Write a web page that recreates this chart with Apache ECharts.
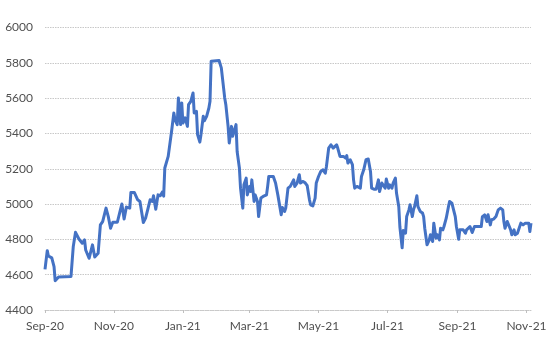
<!DOCTYPE html>
<html><head><meta charset="utf-8">
<script src="https://cdn.jsdelivr.net/npm/echarts@6/dist/echarts.min.js"></script>
<style>html,body{margin:0;padding:0;background:#fff}#c{width:558px;height:346px}</style>
</head><body><div id="c"></div>
<script>
const monthNames = ['Jan','Feb','Mar','Apr','May','Jun','Jul','Aug','Sep','Oct','Nov','Dec'];
const xStart = '2020-09-01';
const xEnd = '2021-11-05';
const yMin = 4400, yMax = 6000, yStep = 200;

const dates = [
  '2020-09-01','2020-09-03','2020-09-04','2020-09-07','2020-09-09','2020-09-10','2020-09-13','2020-09-24','2020-09-26','2020-09-28',
  '2020-10-01','2020-10-04','2020-10-06','2020-10-07','2020-10-10','2020-10-11','2020-10-13','2020-10-15','2020-10-18','2020-10-20','2020-10-22','2020-10-25','2020-10-27','2020-10-29','2020-10-31',
  '2020-11-04','2020-11-06','2020-11-08','2020-11-10','2020-11-12','2020-11-15','2020-11-16','2020-11-19','2020-11-22','2020-11-24','2020-11-27','2020-11-29',
  '2020-12-01','2020-12-03','2020-12-05','2020-12-06','2020-12-08','2020-12-10','2020-12-12','2020-12-14','2020-12-15','2020-12-16','2020-12-19','2020-12-22','2020-12-24','2020-12-25','2020-12-27','2020-12-28','2020-12-30','2020-12-31',
  '2021-01-01','2021-01-03','2021-01-05','2021-01-06','2021-01-08','2021-01-10','2021-01-11','2021-01-13','2021-01-14','2021-01-16','2021-01-17','2021-01-19','2021-01-20','2021-01-22','2021-01-24','2021-01-25','2021-01-26',
  '2021-02-02','2021-02-04','2021-02-05','2021-02-07','2021-02-08','2021-02-10','2021-02-11','2021-02-13','2021-02-14','2021-02-17','2021-02-18','2021-02-20','2021-02-21','2021-02-23','2021-02-24','2021-02-26','2021-02-27',
  '2021-03-01','2021-03-02','2021-03-03','2021-03-05','2021-03-06','2021-03-08','2021-03-09','2021-03-11','2021-03-13','2021-03-16','2021-03-17','2021-03-18','2021-03-22','2021-03-24','2021-03-26','2021-03-28','2021-03-29','2021-03-30',
  '2021-04-01','2021-04-02','2021-04-04','2021-04-06','2021-04-09','2021-04-10','2021-04-12','2021-04-14','2021-04-15','2021-04-17','2021-04-19','2021-04-21','2021-04-23','2021-04-24','2021-04-26','2021-04-28','2021-04-29',
  '2021-05-01','2021-05-03','2021-05-05','2021-05-07','2021-05-08','2021-05-10','2021-05-12','2021-05-14','2021-05-17','2021-05-18','2021-05-20','2021-05-21','2021-05-23','2021-05-25','2021-05-26','2021-05-27','2021-05-29','2021-05-31',
  '2021-06-01','2021-06-02','2021-06-04','2021-06-07','2021-06-08','2021-06-10','2021-06-12','2021-06-14','2021-06-16','2021-06-17','2021-06-19','2021-06-21','2021-06-23','2021-06-24','2021-06-26','2021-06-27','2021-06-29','2021-06-30',
  '2021-07-02','2021-07-03','2021-07-05','2021-07-06','2021-07-08','2021-07-09','2021-07-11','2021-07-12','2021-07-14','2021-07-15','2021-07-17','2021-07-18','2021-07-20','2021-07-21','2021-07-23','2021-07-24','2021-07-25','2021-07-27','2021-07-28','2021-07-30',
  '2021-08-01','2021-08-02','2021-08-03','2021-08-04','2021-08-05','2021-08-07','2021-08-08','2021-08-10','2021-08-11','2021-08-13','2021-08-14','2021-08-16','2021-08-17','2021-08-19','2021-08-20','2021-08-22','2021-08-24','2021-08-25','2021-08-27','2021-08-28','2021-08-30','2021-08-31',
  '2021-09-02','2021-09-03','2021-09-06','2021-09-08','2021-09-09','2021-09-10','2021-09-12','2021-09-13','2021-09-14','2021-09-16','2021-09-22','2021-09-23','2021-09-25','2021-09-27','2021-09-28','2021-09-30',
  '2021-10-01','2021-10-03','2021-10-05','2021-10-07','2021-10-09','2021-10-11','2021-10-12','2021-10-13','2021-10-15','2021-10-16','2021-10-18','2021-10-19','2021-10-21','2021-10-22','2021-10-24','2021-10-25','2021-10-27','2021-10-29','2021-10-31',
  '2021-11-03','2021-11-04','2021-11-05'
];

const values = [
  4630,4736,4706,4695,4646,4566,4587,4590,4759,4840,
  4802,4778,4797,4740,4693,4699,4769,4700,4721,4882,4901,4977,4929,4863,4897,
  4897,4949,5000,4915,4983,4977,5066,5066,5024,5015,4895,4920,
  4971,5024,5015,5047,4971,5052,5047,5070,5045,5204,5270,5412,5516,5478,5450,5601,5450,5573,
  5459,5488,5440,5563,5582,5629,5516,5525,5393,5351,5393,5497,5472,5497,5544,5582,5809,
  5813,5771,5715,5601,5563,5440,5346,5440,5384,5450,5298,5204,5090,4977,5109,5147,5052,
  5100,5071,5137,5015,5052,5015,4929,5034,5043,5052,5100,5156,5156,5119,5052,4977,4940,4980,
  4958,4977,5090,5100,5137,5100,5119,5166,5119,5128,5122,5104,5024,4996,4990,5034,5119,
  5156,5185,5194,5175,5213,5317,5336,5317,5336,5317,5270,5279,5270,5260,5274,5232,5251,5223,
  5137,5090,5100,5090,5156,5194,5251,5255,5185,5090,5084,5084,5137,5071,5119,5128,5090,5142,
  5090,5109,5090,5119,5147,5062,4986,4870,4752,4850,4835,4929,4967,4996,4929,4967,4986,5047,4986,4958,
  4949,4929,4863,4816,4769,4797,4826,4788,4892,4807,4826,4797,4863,4854,4873,4920,4986,5015,5005,4996,4929,4873,
  4801,4854,4854,4835,4854,4858,4873,4882,4839,4873,4873,4929,4939,4901,4939,4882,
  4911,4915,4929,4967,4977,4967,4901,4863,4901,4892,4854,4826,4854,4826,4835,4826,4892,4882,4892,
  4892,4844,4892
];

const DAY = 86400000;
const gridStyle = { color: '#c8c8c8', width: 1, type: [1.5, 1] };
const labelFont = { color: '#505050', fontSize: 12, fontFamily: 'Lato, "Open Sans", sans-serif' };

const chart = echarts.init(document.getElementById('c'), null, { renderer: 'canvas' });
chart.setOption({
  animation: false,
  grid: { left: 45, right: 27, top: 27.5, bottom: 36, containLabel: false },
  xAxis: {
    type: 'time',
    min: xStart,
    max: xEnd,
    minInterval: 62 * DAY,
    maxInterval: 62 * DAY,
    splitLine: { show: false },
    axisLine: { show: true, lineStyle: gridStyle },
    axisTick: { show: true, length: 3, lineStyle: { color: '#bfbfbf' } },
    axisLabel: Object.assign({
      margin: 10,
      showMinLabel: true,
      hideOverlap: false,
      formatter: function (v) {
        const d = new Date(v);
        return monthNames[d.getMonth()] + '-' + String(d.getFullYear()).slice(2);
      }
    }, labelFont)
  },
  yAxis: {
    type: 'value',
    min: yMin,
    max: yMax,
    interval: yStep,
    axisLine: { show: false },
    axisTick: { show: false },
    splitLine: { show: true, lineStyle: gridStyle },
    axisLabel: Object.assign({ margin: 12, formatter: function (v) { return String(v); } }, labelFont)
  },
  series: [{
    type: 'line',
    data: dates.map((d, i) => [d, values[i]]),
    showSymbol: false,
    symbol: 'none',
    lineStyle: { color: '#4472C4', width: 3, join: 'round' },
    itemStyle: { color: '#4472C4' }
  }]
});
</script>
</body></html>
